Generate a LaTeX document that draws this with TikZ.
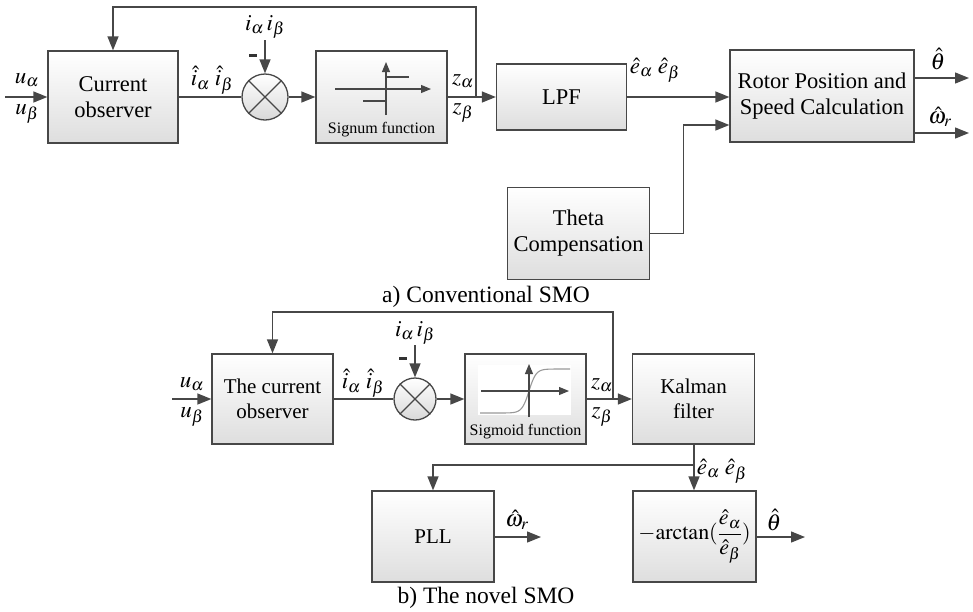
\documentclass[tikz,border=0pt]{standalone}
\usepackage{mathptmx}
\usepackage{fontspec}
\setmainfont{Liberation Serif}
\usetikzlibrary{arrows.meta,calc}
\begin{document}
\begin{tikzpicture}[x=1pt,y=-1pt,
  ln/.style={draw=black!72, line width=1.3pt},
  arr/.style={ln, -{Triangle[length=14pt,width=11pt]}},
  sarr/.style={ln, line width=1.1pt, -{Triangle[length=10pt,width=8pt]}},
  blk/.style={ln, top color=white, bottom color=black!13, shading angle=0, inner sep=2pt, align=center, font=\fontsize{21}{25}\selectfont},
  blkA/.style={blk, font=\fontsize{22.5}{26}\selectfont},
  sumc/.style={ln, circle, minimum size=46pt, inner sep=0pt, top color=white, bottom color=black!15},
  lab/.style={font=\fontsize{23}{26}\selectfont, inner sep=0pt},
  minus/.style={fill=black!80, minimum width=8pt, minimum height=3pt, inner sep=0pt},
  small/.style={font=\fontsize{16}{18}\selectfont, inner sep=0pt},
  captxt/.style={font=\fontsize{23.5}{26}\selectfont, inner sep=0pt}
]
\useasboundingbox (0,0) rectangle (973,611);

% ---------------- a) Conventional SMO ----------------
\node[blkA, minimum width=130pt, minimum height=92pt] (co) at (113,97) {Current\\observer};
\node[sumc] (s1) at (265,97) {};
\draw[ln] (s1.north east) -- (s1.south west) (s1.north west) -- (s1.south east);
\node[blk, minimum width=131pt, minimum height=92pt] (sg) at (381.5,97) {};
\node[small] (sgt) at (381.5,130) {Signum function};
\node[blkA, minimum width=130pt, minimum height=66pt] (lpf) at (561.5,97) {LPF};
\node[blkA, minimum width=184pt, minimum height=92pt] (rot) at (822,96) {Rotor Position and\\Speed Calculation};
\node[blkA, minimum width=142pt, minimum height=92pt] (th) at (578.5,233.5) {Theta\\Compensation};

% signum graphic
\draw[sarr] (335,89) -- (431,89);
\draw[sarr] (386,115) -- (386,62);
\draw[ln, line width=1.1pt] (386,77) -- (409,77);
\draw[ln, line width=1.1pt] (363,101) -- (386,101);

% input
\coordinate (in1) at (5,97);
\draw[arr] (in1) -- (co.west);
\node[lab] at (27,80) {$u_\alpha$};
\node[lab] at (27,114) {$u_\beta$};

\draw[ln] (co.east) -- (s1.west);
\node[lab] at (212,80) {$\hat{i}_\alpha\;\hat{i}_\beta$};
\coordinate (ia1) at (265,40);
\draw[arr] (ia1) -- (s1.north);
\node[lab] at (265,27) {$i_\alpha\, i_\beta$};
\node[minus] at (253,55) {};
\draw[arr] (s1.east) -- (sg.west);

\draw[arr] (sg.east) -- (lpf.west);
\node[lab] at (463,81) {$z_\alpha$};
\node[lab] at (463,113) {$z_\beta$};
\coordinate (fb1) at (476,97);
\draw[arr] (fb1) -- (476,7) -| (co.north);

\draw[arr] (lpf.east) -- (lpf.east -| rot.west);
\node[lab] at (655,70) {$\hat{e}_\alpha\;\hat{e}_\beta$};
\draw[arr] (th.east) -| ($(rot.west)+(-46,29)$) -- ($(rot.west)+(0,29)$);

\coordinate (o1) at (969,78);
\coordinate (o2) at (969,133);
\draw[arr] (rot.east |- o1) -- (o1);
\draw[arr] (rot.east |- o2) -- (o2);
\node[lab] at (938,59) {$\hat{\theta}$};
\node[lab] at (940,117) {$\hat{\omega}_r$};

\node[captxt] at (486,297) {a) Conventional SMO};

% ---------------- b) The novel SMO ----------------
\node[blk, minimum width=121pt, minimum height=90pt] (co2) at (272.5,399) {The current\\observer};
\node[sumc, minimum size=42pt] (s2) at (415,399) {};
\draw[ln] (s2.north east) -- (s2.south west) (s2.north west) -- (s2.south east);
\node[blk, minimum width=121pt, minimum height=90pt] (sm) at (525.5,399) {};
\node[small] at (525.5,432) {Sigmoid function};
\node[blk, minimum width=122pt, minimum height=90pt] (kf) at (693.5,399) {Kalman\\filter};
\node[blk, minimum width=122pt, minimum height=91pt] (pll) at (433,536.5) {PLL};
\node[blk, minimum width=123pt, minimum height=91pt, inner sep=0pt, font=\fontsize{22}{26}\selectfont] (atn) at (694.5,536.5) {$-\mathrm{arctan}(\displaystyle\frac{\hat{e}_\alpha}{\hat{e}_\beta})$};

% sigmoid graphic
\fill[white] (478,365) rectangle (571,415);
\draw[black!40, line width=1.1pt, domain=-49:41, samples=60, smooth] plot ({529+\x},{391-22*tanh(\x/7)});
\draw[sarr] (481,391) -- (569,391);
\draw[sarr] (529,417) -- (529,364);

% input
\coordinate (in2) at (172,399);
\draw[arr] (in2) -- (co2.west);
\node[lab] at (192,384) {$u_\alpha$};
\node[lab] at (192,417) {$u_\beta$};

\draw[ln] (co2.east) -- (s2.west);
\node[lab] at (363,383) {$\hat{i}_\alpha\;\hat{i}_\beta$};
\coordinate (ia2) at (415,345);
\draw[arr] (ia2) -- (s2.north);
\node[lab] at (415,333) {$i_\alpha\, i_\beta$};
\node[minus] at (403,358) {};
\draw[arr] (s2.east) -- (sm.west);

\draw[arr] (sm.east) -- (kf.west);
\node[lab] at (602,385) {$z_\alpha$};
\node[lab] at (602,417) {$z_\beta$};
\coordinate (fb2) at (613,399);
\draw[arr] (fb2) -- (613,312) -| (co2.north);

\coordinate (br) at (694,465);
\draw[ln] (kf.south -| br) -- (br);
\draw[arr] (br) -- (br |- atn.north);
\draw[arr] (br) -| (pll.north);
\node[lab] at (722,471) {$\hat{e}_\alpha\;\hat{e}_\beta$};

\coordinate (o3) at (541,537);
\draw[arr] (pll.east |- o3) -- (o3);
\node[lab] at (517,520) {$\hat{\omega}_r$};
\coordinate (o4) at (805,537);
\draw[arr] (atn.east |- o4) -- (o4);
\node[lab] at (774,520) {$\hat{\theta}$};

\node[captxt] at (486,598) {b) The novel SMO};
\end{tikzpicture}
\end{document}
